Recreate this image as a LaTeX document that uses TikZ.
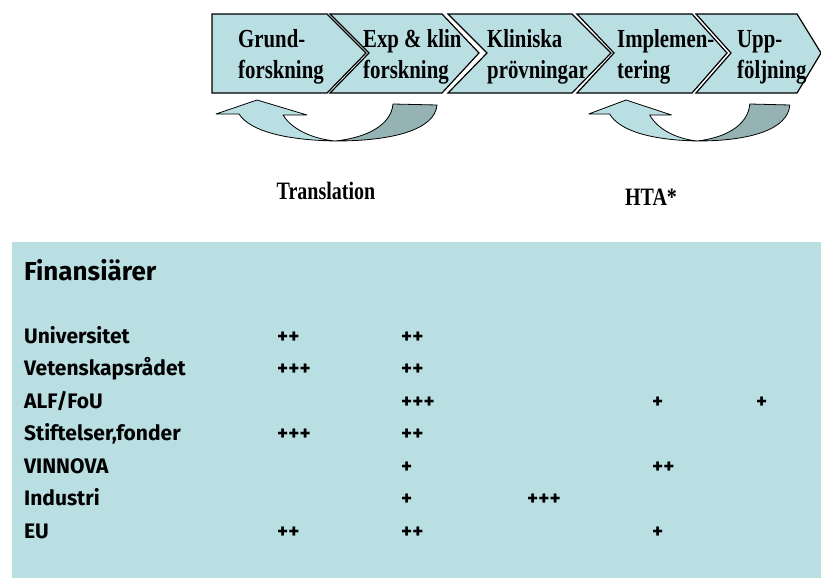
\documentclass[tikz,border=0pt]{standalone}
\usepackage{fontspec}
\setmainfont{Liberation Serif}
\newfontfamily\chevfont[FakeStretch=0.8]{Liberation Serif}
\newfontfamily\tabfont{Fira Sans}
\definecolor{lightteal}{RGB}{186,223,227}
\definecolor{darkteal}{RGB}{149,179,181}
\tikzset{
  chevron/.style={draw=black, line width=1.2pt, fill=lightteal, line join=miter},
  chevtext/.style={align=left, inner sep=0pt, font=\chevfont\bfseries\fontsize{26}{31}\selectfont},
  frontpart/.style={draw=black, line width=0.8pt, fill=lightteal, line join=round},
  backpart/.style={draw=black, line width=0.8pt, fill=darkteal, line join=round},
  looplabel/.style={inner sep=0pt, font=\chevfont\bfseries\fontsize{25}{30}\selectfont},
  headtext/.style={inner sep=0pt, font=\tabfont\bfseries\fontsize{26}{30}\selectfont},
  rowtext/.style={inner sep=0pt, font=\tabfont\bfseries\fontsize{21}{25}\selectfont}
}
\begin{document}
\begin{tikzpicture}[x=1pt, y=-1pt]
  \useasboundingbox (0,0) rectangle (821,578);
  % chain of phases
  \foreach \l/\n/\r/\t/\tx/\txt [count=\i] in {
      212/212/327/366/238/{Grund-\\forskning},
      330/369/442/479/363/{Exp \& klin\\forskning},
      448/487/572/611/487/{Kliniska\\prövningar},
      577/614/692/727/617/{Implemen-\\tering},
      696/731/797/821/737/{Upp-\\följning}}
  {
    \draw[chevron] (\l,14) -- (\r,14) -- (\t,53) -- (\r,93) -- (\l,93) -- (\n,53) -- cycle;
    \node[chevtext, anchor=base west] (fase\i) at (\tx,78) {\txt};
  }
  % curved arrows back
  \foreach \ox/\sx in {335/1, 697/0.91}
  {
    \begin{scope}[shift={(\ox,141)}, xscale=\sx]
      \filldraw[backpart] (0,0) .. controls (60,0) and (100,-12) .. (102,-36)
        -- (58,-37) .. controls (56,-15) and (30,-3) .. (0,0) -- cycle;
      \filldraw[frontpart] (-96,-27) -- (-119,-27) -- (-78,-41) -- (-28,-26) -- (-52,-26)
        .. controls (-42,-10) and (-20,-2) .. (0,0)
        .. controls (-50,-1) and (-85,-10) .. (-96,-27) -- cycle;
    \end{scope}
  }
  \node[looplabel, anchor=base] (translation) at (326,199) {Translation};
  \node[looplabel, anchor=base] (hta) at (651,205) {HTA*};
  % funders
  \fill[lightteal] (12,242) rectangle (821,578);
  \node[headtext, anchor=base west] (finans) at (24,280) {Finansiärer};
  \foreach \name [count=\r] in {Universitet, Vetenskapsrådet, {ALF/FoU}, {Stiftelser,fonder}, VINNOVA, Industri, EU}
    \node[rowtext, anchor=base west] (fin\r) at (24,{343+32.5*(\r-1)}) {\name};
  \foreach \r/\c/\m in {1/1/++, 1/2/++, 2/1/+++, 2/2/++, 3/2/+++, 3/4/+, 3/5/+,
      4/1/+++, 4/2/++, 5/2/+, 5/4/++, 6/2/+, 6/3/+++, 7/1/++, 7/2/++, 7/4/+}
  {
    \pgfmathsetmacro\colx{{277,401,527,652,756}[\c-1]}
    \node[rowtext, anchor=base west] (mark\r\c) at (\colx,{343+32.5*(\r-1)}) {\m};
  }
\end{tikzpicture}
\end{document}
